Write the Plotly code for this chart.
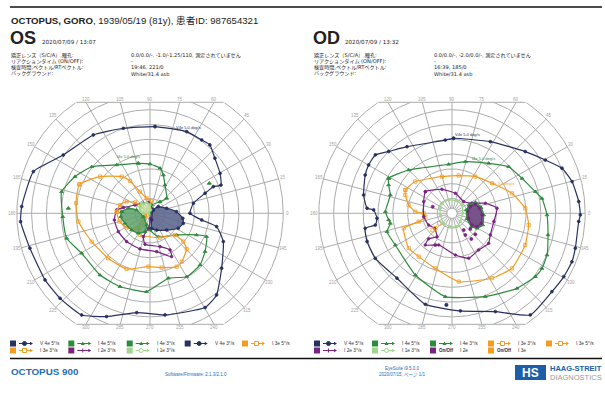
import numpy as np
import plotly.graph_objects as go

# ---------------------------------------------------------------------------
# Page geometry (pixels) and visual-field scale
# ---------------------------------------------------------------------------
W, H = 605, 416
PX_PER_DEG = 1.48
CY = 213.3
CX_OS, CX_OD = 150.0, 452.0
SPAN = 100          # axis half-range in degrees
CLIP = 75           # superior / inferior limit of the chart
GRID_RINGS = [10, 20, 30, 40, 50, 60, 70, 80, 90]
MERIDIANS = list(range(0, 360, 15))

# ---------------------------------------------------------------------------
# Kinetic isopters: meridian (deg) and eccentricity (deg)
# ---------------------------------------------------------------------------
# OS (left eye)
os_v4e5_ang = [86.7, 65.8, 54.8, 48.8, 40.3, 29.7, 21.7, 22.8, 20.0, 13.0, 0.0, 352.6, 348.7, 338.9,
               322.5, 309.2, 300.3, 278.4, 262.4, 247.2, 236.1, 223.4, 212.4, 196.2, 183.7, 177.0,
               160.3, 146.1, 125.9, 107.4]
os_v4e5_ecc = [58.7, 60.5, 60.6, 61.4, 57.5, 54.5, 51.6, 46.4, 39.6, 30.1, 27.0, 35.2, 45.9, 53.1,
               61.0, 71.2, 73.8, 69.4, 67.7, 75.7, 82.8, 83.6, 84.0, 84.5, 87.6, 86.8,
               83.7, 70.6, 65.3, 60.2]

os_i4e5_ang = [103.2, 124.5, 141.4, 153.9, 166.3, 182.2, 196.7, 210.3, 231.0, 247.7, 267.5, 285.8,
               300.1, 314.1, 325.2, 337.6, 335.1, 320.9, 289.5, 270.0, 80.0, 79.0, 49.3, 41.8,
               62.1, 70.8, 77.4, 90.0]
os_i4e5_ecc = [34.7, 39.7, 50.4, 56.4, 61.5, 59.0, 58.8, 53.5, 53.7, 53.5, 53.0, 45.6,
               49.5, 48.6, 45.3, 41.4, 34.7, 23.2, 16.8, 11.3, 1.5, 5.7, 10.4, 15.2,
               21.6, 27.4, 31.2, 33.3]

os_i4e3_ang = [176.7, 166.9, 166.3, 207.0, 254.4, 254.7, 239.7, 222.3, 201.9, 186.6]
os_i4e3_ecc = [19.1, 15.0, 9.3, 5.1, 8.2, 12.9, 15.6, 16.8, 18.2, 19.9]

os_v4e3_ang = [45.0, 38.8, 16.7, 3.5, 351.3, 343.2, 332.1, 315.0, 291.7, 276.2, 283.7]
os_v4e3_ecc = [3.1, 7.2, 11.8, 18.0, 22.4, 23.5, 21.6, 16.0, 12.2, 10.2, 4.6]

os_i3e5_ang = [157.7, 143.7, 127.6, 121.8, 115.0, 102.8, 85.0, 128.0, 217.2, 232.0, 245.0, 292.5,
               319.2, 319.7, 315.8, 303.2, 296.6, 282.1, 268.2, 247.2, 227.1, 205.9, 186.6, 172.3]
os_i3e5_ecc = [51.6, 41.9, 31.3, 25.7, 16.1, 10.4, 8.4, 2.9, 6.3, 12.8, 16.1, 17.8,
               22.3, 29.5, 34.6, 39.1, 40.3, 37.5, 36.0, 40.8, 41.5, 43.8, 48.7, 50.5]

os_i3e3_ang = [177.2, 164.6, 153.4, 143.8, 141.2, 205.6, 238.9, 228.3, 211.5, 195.1]
os_i3e3_ecc = [22.5, 21.1, 17.7, 12.5, 7.2, 2.5, 7.9, 13.5, 18.5, 21.4]

os_i2e3_ang = [123.5, 151.0, 168.0, 174.2, 190.6, 210.1, 230.4, 254.2, 279.9, 296.5, 298.6, 286.8,
               260.8, 254.1, 263.8, 278.4, 72.0, 98.5]
os_i2e3_ecc = [8.1, 11.6, 18.4, 22.6, 24.5, 24.7, 24.8, 25.0, 26.3, 32.7, 28.2, 23.5,
               21.2, 16.4, 10.2, 3.4, 3.6, 7.5]

os_i1e3_ang = [146.5, 129.5, 107.0, 90.0, 77.0, 180.0, 180.0, 165.0]
os_i1e3_ecc = [8.1, 8.8, 7.5, 5.6, 2.3, 1.1, 4.5, 7.0]

os_i4e_static_ang = [26.8, 176.5]
os_i4e_static_ecc = [44.9, 55.3]

# OD (right eye)
od_v4e5_ang = [88.8, 61.8, 40.1, 29.7, 22.3, 14.8, 5.3, 359.3, 356.3, 344.2, 338.0, 330.5, 321.9,
               307.6, 293.8, 274.9, 253.7, 229.7, 210.4, 198.4, 189.8, 188.7, 183.8, 177.5, 176.6,
               168.3, 156.2, 149.9, 142.7, 135.7, 124.0, 95.2]
od_v4e5_ecc = [50.7, 54.9, 64.7, 72.6, 80.3, 83.9, 86.0, 86.7, 85.8, 86.6, 87.4, 86.8, 85.8,
               86.7, 72.6, 66.2, 64.1, 57.5, 60.1, 60.5, 59.5, 52.4, 50.8, 53.0, 57.5,
               61.0, 64.1, 65.1, 65.1, 59.8, 54.3, 49.7]

od_i4e5_ang = [151.1, 135.0, 94.0, 75.5, 53.7, 39.4, 26.5, 14.5, 9.4, 359.0, 347.3, 336.3, 328.5,
               322.8, 310.9, 291.8, 265.4, 239.3, 209.2, 195.8, 189.3, 186.0, 178.6, 163.4, 155.9]
od_i4e5_ecc = [48.9, 41.4, 33.2, 36.0, 41.9, 49.6, 52.9, 58.2, 61.6, 64.2, 66.5, 70.1, 71.3,
               70.7, 67.1, 60.6, 56.5, 48.5, 43.9, 45.6, 42.2, 43.0, 45.0, 43.5, 46.9]

od_i3e3_ang = [153.4, 139.2, 105.3, 80.0, 57.5, 36.9, 18.4, 3.9, 351.3, 336.6, 317.4, 301.6,
               275.6, 253.1, 232.5, 218.9, 197.2, 194.0, 187.3, 180.0, 177.5, 169.2, 158.5]
od_i3e3_ecc = [35.2, 32.8, 25.7, 25.9, 29.4, 33.8, 42.7, 49.6, 52.4, 53.9, 55.0, 51.5,
               46.4, 38.9, 36.9, 37.6, 34.2, 23.2, 18.1, 19.1, 24.8, 29.8, 33.9]

od_i2e3_ang = [140.9, 112.8, 80.3, 45.0, 26.7, 16.8, 6.4, 348.8, 330.6, 320.7, 306.0, 290.4,
               274.7, 247.2, 229.9, 227.6, 237.4, 220.8, 206.6, 186.9, 157.5]
od_i2e3_ecc = [23.2, 17.6, 13.7, 11.2, 15.1, 23.5, 30.6, 28.8, 29.7, 32.0, 30.6, 32.4,
               28.3, 23.2, 28.0, 23.4, 18.8, 15.5, 17.7, 19.2, 20.7]

od_blind_i2e_ang = [20.0, 21.1, 10.4, 356.9, 341.0, 332.0, 329.7, 343.3, 5.8]
od_blind_i2e_ecc = [13.2, 16.9, 18.8, 20.3, 20.9, 19.1, 15.6, 11.8, 10.9]

od_blind_i4e_ang = [25.6, 25.1, 11.0, 357.0, 339.1, 329.1, 325.5, 339.4, 13.3]
od_blind_i4e_ecc = [13.0, 17.5, 20.0, 21.4, 22.2, 19.7, 15.9, 10.8, 10.0]

od_i1e3_ang = [135.0, 104.0, 67.7, 39.5, 0.0, 315.0, 290.7, 263.0, 230.5, 188.0, 156.7]
od_i1e3_ecc = [9.6, 9.3, 9.0, 8.8, 7.2, 7.9, 9.6, 9.1, 8.8, 8.0, 8.6]

od_i2e_static_ang = [161.0, 305.0, 319.5, 318.0, 301.7, 307.0, 242.2]
od_i2e_static_ecc = [13.8, 13.8, 16.3, 21.2, 17.2, 21.7, 24.2]
od_i3e_static_ang = [221.8, 218.3, 220.8]
od_i3e_static_ecc = [15.2, 10.9, 17.3]
od_v4e_static_ang = [266.5]
od_v4e_static_ecc = [62.0]

# Legend entries: (column, row, label, style)
os_legend = [(0, 0, "V 4e 5°/s", "v4e"), (1, 0, "I 4e 5°/s", "i4e"), (2, 0, "I 4e 3°/s", "i4e"),
             (3, 0, "V 4e 3°/s", "v4e"), (4, 0, "I 3e 5°/s", "i3e"),
             (0, 1, "I 3e 3°/s", "i3e"), (1, 1, "I 2e 3°/s", "i2e"), (2, 1, "I 1e 3°/s", "i1e")]
od_legend = [(0, 0, "V 4e 5°/s", "v4e"), (1, 0, "I 4e 5°/s", "i4e"), (2, 0, "I 4e 3°/s", "i4e"),
             (3, 0, "I 3e 3°/s", "i3e"), (4, 0, "I 3e 5°/s", "i3e"),
             (0, 1, "I 2e 3°/s", "i2e"), (1, 1, "I 1e 3°/s", "i1e"), (2, 1, "I 2e", "i2e_s"),
             (3, 1, "I 3e", "i3e_s")]

# ---------------------------------------------------------------------------
# Styles
# ---------------------------------------------------------------------------
NAVY, GREEN, ORANGE = "#27315f", "#2e8a3c", "#f39c1f"
PURPLE, LGREEN = "#7a2383", "#9fd68c"
GRID, LABEL = "#ababab", "#a3a3a3"
BLUE = "#1f6db4"
FONT = "Liberation Sans, Arial, Noto Sans CJK JP, sans-serif"
SMALL = "DejaVu Sans, Noto Sans CJK JP, sans-serif"

STYLE = {
    "v4e": dict(color=NAVY, symbol="circle", size=2.8),
    "i4e": dict(color=GREEN, symbol="triangle-up", size=3.4),
    "i3e": dict(color=ORANGE, symbol="square-open", size=3.2),
    "i2e": dict(color=PURPLE, symbol="circle", size=2.6),
    "i1e": dict(color=LGREEN, symbol="circle", size=2.4),
}
STYLE["i2e_s"] = STYLE["i2e"]
STYLE["i3e_s"] = STYLE["i3e"]


def to_xy(ang, ecc, close=False):
    a = np.deg2rad(np.asarray(ang, float))
    r = np.asarray(ecc, float)
    x, y = r * np.cos(a), r * np.sin(a)
    if close:
        x, y = np.append(x, x[0]), np.append(y, y[0])
    return x, y


fig = go.Figure()
axes = {"os": ("x", "y"), "od": ("x2", "y2")}


def grid_traces(key):
    xa, ya = axes[key]
    gx, gy = [], []
    t = np.linspace(0, 2 * np.pi, 721)
    for r in GRID_RINGS:
        x, y = r * np.cos(t), r * np.sin(t)
        keep = np.abs(y) <= CLIP
        for xi, yi, k in zip(x, y, keep):
            gx.append(xi if k else None)
            gy.append(yi if k else None)
        gx.append(None); gy.append(None)
    edge = np.sqrt(GRID_RINGS[-1] ** 2 - CLIP ** 2)
    for s in (1, -1):
        gx += [-edge, edge, None]; gy += [s * CLIP, s * CLIP, None]
    for m in MERIDIANS:
        a = np.deg2rad(m)
        s = abs(np.sin(a))
        rb = GRID_RINGS[-1] if s < 1e-9 else min(GRID_RINGS[-1], CLIP / s)
        gx += [0, rb * np.cos(a), None]; gy += [0, rb * np.sin(a), None]
    fig.add_trace(go.Scatter(x=gx, y=gy, mode="lines", xaxis=xa, yaxis=ya,
                             line=dict(color=GRID, width=1), hoverinfo="skip"))
    # meridian labels at the outer boundary
    for m in MERIDIANS:
        a = np.deg2rad(m)
        s = np.sin(a)
        if abs(s) * GRID_RINGS[-1] > CLIP:
            lx, ly = CLIP / np.tan(a), np.sign(s) * (CLIP + 2.2)
        else:
            lx, ly = 93 * np.cos(a), 93 * s
        fig.add_annotation(x=lx, y=ly, xref=xa, yref=ya, text=str(m), showarrow=False,
                           font=dict(size=4.5, color=LABEL, family=FONT))
    # fixation disc
    cx, cy = to_xy(np.arange(0, 361, 10), np.full(37, 3.5))
    fig.add_trace(go.Scatter(x=cx, y=cy, mode="lines", fill="toself", fillcolor="white",
                             xaxis=xa, yaxis=ya, line=dict(color=GRID, width=1), hoverinfo="skip"))


def isopter(key, ang, ecc, style, fill=None, width=1.2):
    xa, ya = axes[key]
    st = STYLE[style]
    x, y = to_xy(ang, ecc, close=True)
    fig.add_trace(go.Scatter(
        x=x, y=y, mode="lines+markers", xaxis=xa, yaxis=ya,
        line=dict(color=st["color"], width=width, shape="spline", smoothing=0.45),
        marker=dict(symbol=st["symbol"], size=st["size"], color=st["color"],
                    line=dict(color=st["color"], width=0.8)),
        fill="toself" if fill else None, fillcolor=fill, hoverinfo="skip"))


def static_points(key, ang, ecc, style):
    xa, ya = axes[key]
    st = STYLE[style]
    x, y = to_xy(ang, ecc)
    fig.add_trace(go.Scatter(x=x, y=y, mode="markers", xaxis=xa, yaxis=ya,
                             marker=dict(symbol=st["symbol"], size=st["size"] + 0.4,
                                         color=st["color"],
                                         line=dict(color=st["color"], width=0.8)),
                             hoverinfo="skip"))


# ---- OS chart
grid_traces("os")
isopter("os", os_v4e5_ang, os_v4e5_ecc, "v4e")
isopter("os", os_i4e5_ang, os_i4e5_ecc, "i4e")
isopter("os", os_i3e5_ang, os_i3e5_ecc, "i3e")
isopter("os", os_i2e3_ang, os_i2e3_ecc, "i2e")
isopter("os", os_i3e3_ang, os_i3e3_ecc, "i3e")
isopter("os", os_i4e3_ang, os_i4e3_ecc, "i4e", fill="rgba(92,160,104,0.85)")
isopter("os", os_v4e3_ang, os_v4e3_ecc, "v4e", fill="rgba(94,104,142,0.9)")
isopter("os", os_i1e3_ang, os_i1e3_ecc, "i1e", fill="rgba(190,230,170,0.8)")
static_points("os", os_i4e_static_ang, os_i4e_static_ecc, "i4e")

# ---- OD chart
grid_traces("od")
isopter("od", od_v4e5_ang, od_v4e5_ecc, "v4e")
isopter("od", od_i4e5_ang, od_i4e5_ecc, "i4e")
isopter("od", od_i3e3_ang, od_i3e3_ecc, "i3e")
isopter("od", od_i2e3_ang, od_i2e3_ecc, "i2e")
isopter("od", od_i1e3_ang, od_i1e3_ecc, "i1e")
isopter("od", od_blind_i4e_ang, od_blind_i4e_ecc, "i4e", fill="rgba(60,130,70,0.9)")
isopter("od", od_blind_i2e_ang, od_blind_i2e_ecc, "i2e", fill="rgba(120,80,140,0.95)")
static_points("od", od_i2e_static_ang, od_i2e_static_ecc, "i2e")
static_points("od", od_i3e_static_ang, od_i3e_static_ecc, "i3e")
static_points("od", od_v4e_static_ang, od_v4e_static_ecc, "v4e")

# isopter captions
for key, x, y, txt, col in [("os", 25.7, 58.3, "V4e 5.0 deg/s", NAVY),
                            ("os", -14.2, 38.2, "I4e 5.0 deg/s", GREEN),
                            ("od", 10.5, 53.4, "V4e 5.0 deg/s", NAVY),
                            ("od", 21.6, 37.2, "I4e 5.0 deg/s", GREEN),
                            ("od", 34.1, 20.3, "I3e 3.0 deg/s", ORANGE)]:
    xa, ya = axes[key]
    fig.add_annotation(x=x, y=y, xref=xa, yref=ya, text=txt, showarrow=False,
                       font=dict(size=4, color=col, family=FONT))

# ---------------------------------------------------------------------------
# Page furniture (pixel positions converted to paper fractions)
# ---------------------------------------------------------------------------
def px(x): return x / W
def py(y): return 1 - y / H


def text(x, y, s, size, color="#222", xanchor="left", family=FONT):
    fig.add_annotation(x=px(x), y=py(y), xref="paper", yref="paper", text=s, showarrow=False,
                       xanchor=xanchor, yanchor="middle", borderpad=0,
                       font=dict(size=size, color=color, family=family))


shapes = []


def hline(x0, x1, y, color="#111", width=1.5):
    shapes.append(dict(type="line", xref="paper", yref="paper", x0=px(x0), x1=px(x1),
                       y0=py(y), y1=py(y), line=dict(color=color, width=width)))


def rect(x0, x1, y0, y1, fill, line=None):
    shapes.append(dict(type="rect", xref="paper", yref="paper", x0=px(x0), x1=px(x1),
                       y0=py(y1), y1=py(y0), fillcolor=fill,
                       line=dict(color=line or fill, width=1 if line else 0)))


hline(10, 602, 7)
hline(10, 602, 358.5)

text(10, 20.5, "<b>OCTOPUS, GORO</b>, 1939/05/19 (81y), 患者ID: 987654321", 9.6)
for x0, eye, stamp, vals in [
        (10, "OS", "2020/07/09 / 13:07",
         ["0.0/0.0/-, -1.0/-1.25/110, 測定されていません", "-", "19:46, 221/0", "White/31.4 asb"]),
        (313, "OD", "2020/07/09 / 13:32",
         ["0.0/0.0/-, -2.0/0.0/-, 測定されていません", "-", "16:39, 185/0", "White/31.4 asb"])]:
    text(x0 - 1, 38, f"<b>{eye}</b>", 18)
    text(x0 + 31, 42, stamp, 5.6, family=SMALL)
    keys = ["矯正レンズ（S/C/A）,瞳孔:", "リアクションタイム (ON/OFF):",
            "検査時間,ベクトル/RTベクトル:", "バックグラウンド:"]
    for i, (k, v) in enumerate(zip(keys, vals)):
        yy = 55.2 + i * 6.1
        text(x0, yy, k, 5.1, family=SMALL)
        text(x0 + 120, yy, v, 5.1, family=SMALL)


def legend(entries, x_cols, rows=(343.5, 350.5)):
    for col, row, label, style in entries:
        st = STYLE[style]
        c = st["color"]
        x0, yc = x_cols[col], rows[row]
        rect(x0, x0 + 6, yc - 3, yc + 3, c)
        if style.endswith("_s"):
            text(x0 + 8, yc, "<b>On/Off</b>", 4.5, color="#3a1a40")
        else:
            hline(x0 + 9, x0 + 21, yc, color=c, width=1)
            mx = x0 + 14.5
            if st["symbol"] == "triangle-up":
                shapes.append(dict(type="path", xref="paper", yref="paper",
                                   path=f"M {px(mx-2)} {py(yc+1.6)} L {px(mx+2)} {py(yc+1.6)} L {px(mx)} {py(yc-2)} Z",
                                   fillcolor=c, line=dict(width=0)))
            elif style.startswith("i2e"):
                shapes.append(dict(type="line", xref="paper", yref="paper", x0=px(mx), x1=px(mx),
                                   y0=py(yc - 2), y1=py(yc + 2), line=dict(color=c, width=1)))
            elif st["symbol"] == "square-open":
                rect(mx - 2, mx + 2, yc - 2, yc + 2, "white", line=c)
            else:
                shapes.append(dict(type="circle", xref="paper", yref="paper",
                                   x0=px(mx - 2), x1=px(mx + 2), y0=py(yc + 2), y1=py(yc - 2),
                                   fillcolor=c if style == "v4e" else "white",
                                   line=dict(color=c, width=1)))
            shapes.append(dict(type="path", xref="paper", yref="paper",
                               path=f"M {px(x0+20)} {py(yc-1.8)} L {px(x0+23)} {py(yc)} L {px(x0+20)} {py(yc+1.8)} Z",
                               fillcolor=c, line=dict(width=0)))
        text(x0 + 29, yc, label, 4.8, color="#333")


legend(os_legend, [10, 68.3, 126.7, 184.7, 242])
legend(od_legend, [314, 372, 430, 488, 546])

text(10, 371, "<b>OCTOPUS 900</b>", 9.8, color=BLUE)
text(164, 374, "Software/Firmware: 2.1.3/2.1.0", 4.5, color=BLUE)
text(402, 368, "EyeSuite i9.5.0.0", 4.5, color=BLUE, xanchor="center")
text(402, 374.5, "2020/07/15, ページ 1/1", 4.5, color=BLUE, xanchor="center")
rect(515, 546, 365, 380, "#1c5fa8")
text(530.5, 372.5, "<b>HS</b>", 12, color="white", xanchor="center")
text(549, 368.5, "<b>HAAG-STREIT</b>", 7.5, color="#1c5fa8")
text(549, 377, "DIAGNOSTICS", 7.5, color="#9a9a9a")

# ---------------------------------------------------------------------------
# Layout: one cartesian frame per eye, scaled to PX_PER_DEG
# ---------------------------------------------------------------------------
half = SPAN * PX_PER_DEG
ydom = [py(CY + half), py(CY - half)]
ax_common = dict(showgrid=False, zeroline=False, showticklabels=False, showline=False,
                 range=[-SPAN, SPAN], fixedrange=True)
fig.update_layout(
    width=W, height=H, autosize=False, margin=dict(l=0, r=0, t=0, b=0),
    paper_bgcolor="white", plot_bgcolor="rgba(0,0,0,0)", showlegend=False,
    xaxis=dict(domain=[px(CX_OS - half), px(CX_OS + half)], **ax_common),
    yaxis=dict(domain=ydom, **ax_common),
    xaxis2=dict(domain=[px(CX_OD - half), px(CX_OD + half)], **ax_common),
    yaxis2=dict(domain=ydom, **ax_common),
    shapes=shapes,
)

fig.write_html("out.html")
